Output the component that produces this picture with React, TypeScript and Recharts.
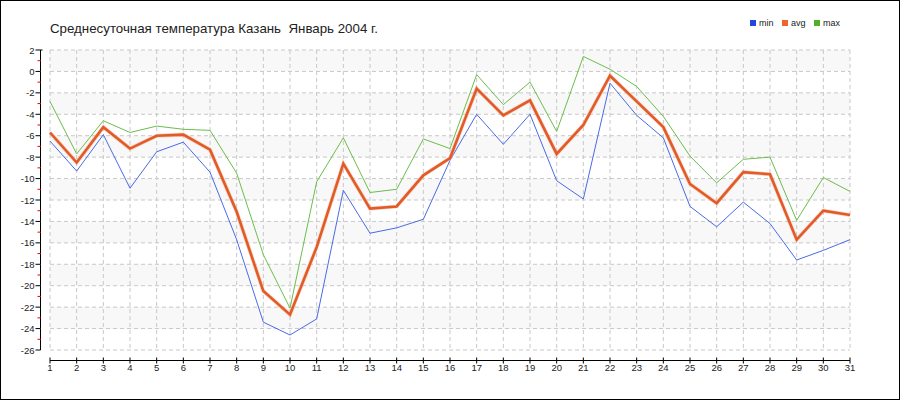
import React from 'react'
import { LineChart, Line, XAxis, YAxis, CartesianGrid, Legend } from 'recharts'

// Kazan, January 2004, daily temperatures (°C)
const days = [1, 2, 3, 4, 5, 6, 7, 8, 9, 10, 11, 12, 13, 14, 15, 16, 17, 18, 19, 20, 21, 22, 23, 24, 25, 26, 27, 28, 29, 30, 31]
const minTemp = [-6.5, -9.3, -5.9, -10.9, -7.5, -6.6, -9.4, -15.7, -23.4, -24.6, -23.1, -11.1, -15.1, -14.6, -13.8, -8.3, -4.0, -6.8, -4.0, -10.2, -11.9, -1.1, -4.1, -6.2, -12.6, -14.5, -12.2, -14.2, -17.6, -16.7, -15.7]
const avgTemp = [-5.7, -8.5, -5.2, -7.2, -6.0, -5.9, -7.3, -13.1, -20.5, -22.7, -16.4, -8.6, -12.8, -12.6, -9.7, -8.1, -1.6, -4.1, -2.7, -7.7, -5.0, -0.4, -2.8, -5.2, -10.5, -12.3, -9.4, -9.6, -15.7, -13.0, -13.4]
const maxTemp = [-2.8, -7.7, -4.6, -5.7, -5.1, -5.4, -5.5, -9.5, -17.1, -22.1, -10.3, -6.2, -11.3, -11.0, -6.3, -7.2, -0.3, -3.1, -1.0, -5.6, 1.4, 0.2, -1.4, -4.2, -7.9, -10.4, -8.2, -8.0, -13.9, -9.9, -11.2]

const yTicks = [2, 1, 0, -1, -2, -3, -4, -5, -6, -7, -8, -9, -10, -11, -12, -13, -14, -15, -16, -17, -18, -19, -20, -21, -22, -23, -24, -25, -26]
const gridValues = [2, 0, -2, -4, -6, -8, -10, -12, -14, -16, -18, -20, -22, -24, -26]
const seriesOrder = ['min', 'avg', 'max']

const title = 'Среднесуточная температура Казань  Январь 2004 г.'

const data = days.map((day, i) => ({ day, min: minTemp[i], avg: avgTemp[i], max: maxTemp[i] }))

const W = 898
const H = 398
const PLOT_W = 800
const PLOT_H = 300
const Y_MAX = 2
const Y_MIN = -26
const FONT = '"Liberation Sans", Arial, sans-serif'

const legendColors: Record<string, string> = { min: '#2446e0', avg: '#ee6530', max: '#4fae2c' }

// y axis sits 10px left of the plot, red minor ticks on odd values
const YTick = (props: any) => {
  const { x, y, payload } = props
  const v = payload.value
  const ax = x - 9.5
  const step = PLOT_H / (Y_MAX - Y_MIN)
  const even = v % 2 === 0
  return (
    <g>
      {v > Y_MIN && <line x1={ax} x2={ax} y1={y} y2={y + step} stroke="#000" />}
      {even
        ? <line x1={ax - 5} x2={ax + (v === Y_MAX ? 2 : 0)} y1={y} y2={y} stroke="#000" />
        : <line x1={ax - 3} x2={ax} y1={y} y2={y} stroke="#ee0000" />}
      {even && (
        <text x={ax - 6} y={y} dy={3.5} textAnchor="end" fontSize={9.5} fontFamily={FONT} fill="#222">
          {v}
        </text>
      )}
    </g>
  )
}

// x axis sits 10px below the plot
const XTick = (props: any) => {
  const { x, y, payload } = props
  const ay = y + 10.5
  const step = PLOT_W / (days.length - 1)
  return (
    <g>
      {payload.value < days[days.length - 1] && <line x1={x} x2={x + step} y1={ay} y2={ay} stroke="#000" />}
      <line x1={x} x2={x} y1={ay - 3} y2={ay + 3} stroke="#000" />
      <text x={x} y={ay + 10} textAnchor="middle" fontSize={9.5} fontFamily={FONT} fill="#222">
        {payload.value}
      </text>
    </g>
  )
}

const renderLegend = (props: any) => {
  const items = (props.payload || [])
    .filter((p: any) => seriesOrder.includes(p.value))
    .sort((a: any, b: any) => seriesOrder.indexOf(a.value) - seriesOrder.indexOf(b.value))
  return (
    <div style={{ display: 'flex', alignItems: 'center', fontFamily: FONT, fontSize: 9, color: '#222', lineHeight: '10px' }}>
      {items.map((p: any) => (
        <div key={p.value} style={{ width: 32, display: 'flex', alignItems: 'center' }}>
          <span style={{ width: 6, height: 6, background: legendColors[p.value], marginRight: 3, display: 'inline-block' }} />
          <span>{p.value}</span>
        </div>
      ))}
    </div>
  )
}

export default function App() {
  return (
    <div
      style={{
        position: 'absolute',
        left: 0,
        top: 0,
        width: 900,
        height: 400,
        border: '1px solid #000',
        boxSizing: 'border-box',
        background: '#fff',
      }}
    >
      <div
        style={{
          position: 'absolute',
          left: 49,
          top: 20,
          fontFamily: FONT,
          fontSize: 13.3,
          lineHeight: '15px',
          color: '#222',
          whiteSpace: 'pre',
        }}
      >
        {title}
      </div>
      <LineChart width={W} height={H} data={data} margin={{ top: 49, right: 49, bottom: 0, left: 0 }}>
        <CartesianGrid
          stroke="#c8c8c8"
          strokeDasharray="4 3"
          horizontalValues={gridValues}
          horizontalFill={['#f8f8f8', '#ffffff']}
          fillOpacity={1}
        />
        <XAxis
          dataKey="day"
          type="number"
          domain={[1, 31]}
          ticks={days}
          interval={0}
          height={49}
          tickSize={0}
          tickMargin={0}
          axisLine={false}
          tickLine={false}
          tick={(p: any) => <XTick {...p} />}
        />
        <YAxis
          type="number"
          domain={[Y_MIN, Y_MAX]}
          ticks={yTicks}
          interval={0}
          width={49}
          tickSize={0}
          tickMargin={0}
          axisLine={false}
          tickLine={false}
          tick={(p: any) => <YTick {...p} />}
        />
        <Legend
          layout="horizontal"
          verticalAlign="middle"
          align="center"
          wrapperStyle={{ position: 'absolute', top: 17, left: 749, width: 110, height: 10 }}
          content={renderLegend}
        />
        <Line type="linear" dataKey="max" name="max" stroke="#6dbd4c" strokeWidth={1} dot={false} activeDot={false} isAnimationActive={false} />
        <Line type="linear" dataKey="min" name="min" stroke="#4a6be6" strokeWidth={1} dot={false} activeDot={false} isAnimationActive={false} />
        <Line type="linear" dataKey="avg" name="avg-halo" legendType="none" stroke="#f3b49a" strokeWidth={4} strokeOpacity={0.5} dot={false} activeDot={false} isAnimationActive={false} />
        <Line type="linear" dataKey="avg" name="avg" stroke="#e25b27" strokeWidth={2.6} dot={false} activeDot={false} isAnimationActive={false} />
      </LineChart>
    </div>
  )
}
